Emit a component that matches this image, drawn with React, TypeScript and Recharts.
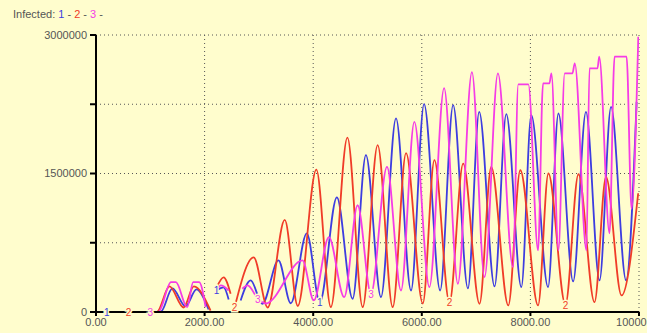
import React from 'react';
import { LineChart, Line, XAxis, YAxis, CartesianGrid } from 'recharts';

const xTicks = [0, 2000, 4000, 6000, 8000, 10000];
const yTicks = [0, 750000, 1500000, 2250000, 3000000];
const yLabelled = [0, 1500000, 3000000];

const s1Name = '1';
const s1T = [0, 200, 1190, 1408, 1648, 1851, 2073, 2150, 2221, 2350, 2443, 2550, 2664, 2848, 3064, 3360, 3587, 3882, 4122, 4436, 4726, 4971, 5248, 5525, 5802, 6042, 6338, 6577, 6849, 7057, 7340, 7556, 7833, 8017, 8325, 8516, 8787, 9023, 9273, 9485, 9762, 9956];
const s1V = [0, 0, 0, 255000, 60000, 244000, 27000, null, 233000, 266000, 136000, null, 125000, 342000, 89000, 559000, 95000, 852000, 106000, 1242000, 143000, 1698000, 161000, 2096000, 233000, 2251000, 233000, 2241000, 255000, 2168000, 277000, 2143000, 269000, 2132000, 269000, 2150000, 331000, 2168000, 342000, 2222000, 342000, 2276000];
const s1Labels = [200, 2221, 4122];

const s2Name = '2';
const s2T = [0, 600, 1120, 1353, 1612, 1802, 2110, 2160, 2221, 2350, 2479, 2520, 2553, 2904, 3162, 3476, 3716, 4058, 4325, 4630, 4911, 5187, 5464, 5710, 6018, 6232, 6509, 6762, 7063, 7279, 7593, 7814, 8141, 8331, 8645, 8885, 9180, 9392, 9678, 9985];
const s2V = [0, 0, 0, 277000, 49000, 277000, 16000, null, 263000, 374000, 197000, null, 49000, 591000, 49000, 998000, 65000, 1541000, 52000, 1888000, 52000, 1807000, 52000, 1720000, 92000, 1644000, 103000, 1606000, 89000, 1571000, 71000, 1535000, 71000, 1500000, 81000, 1492000, 106000, 1463000, 179000, 1286000];
const s2Labels = [600, 2553, 6509, 8645];

const s3Name = '3';
const s3T = [0, 1000, 1150, 1380, 1470, 1680, 1790, 1900, 2018, 2120, 2221, 2300, 2443, 2560, 2695, 2793, 2978, 3125, 3803, 4011, 4288, 4571, 4818, 5064, 5359, 5617, 5863, 6140, 6411, 6664, 6923, 7155, 7402, 7679, 7777, 7962, 8141, 8233, 8350, 8387, 8516, 8632, 8774, 8817, 9032, 9088, 9236, 9267, 9457, 9550, 9771, 9863, 9987];
const s3V = [0, 0, 0, 323000, 323000, 52000, 323000, 323000, 52000, null, 233000, 288000, 233000, null, 252000, 288000, 146000, 92000, 559000, 125000, 812000, 161000, 1156000, 197000, 1571000, 233000, 2059000, 269000, 2425000, 306000, 2599000, 378000, 2584000, 486000, 2465000, 2465000, 667000, 2476000, 2476000, 2584000, 667000, 2584000, 2584000, 2693000, 667000, 2639000, 2639000, 2765000, 852000, 2765000, 2765000, 1118000, 2982000];
const s3Labels = [1000, 2978, 5064];

const BG = '#fffdcd';
const C1 = '#3d3de0';
const C2 = '#f03c28';
const C3 = '#f53ce6';

type Pt = { t: number; v: number | null; lab: boolean };
const build = (ts: number[], vs: (number | null)[], labs: number[]): Pt[] =>
  ts.map((t, i) => ({ t, v: vs[i], lab: labs.includes(t) }));

const d1 = build(s1T, s1V, s1Labels);
const d2 = build(s2T, s2V, s2Labels);
const d3 = build(s3T, s3V, s3Labels);

const mkLabel = (data: Pt[], color: string, text: string) => (props: any) => {
  const { x, y, index } = props;
  if (!data[index] || !data[index].lab || x == null || y == null) return <g key={`l${index}`} />;
  return (
    <text
      key={`l${index}`}
      x={x}
      y={y}
      dy={4}
      textAnchor="middle"
      fontSize={10}
      fontFamily="Liberation Sans, Arial, sans-serif"
      fill={color}
      stroke={BG}
      strokeWidth={3}
      paintOrder="stroke"
    >
      {text}
    </text>
  );
};

const tickStyle = { fill: '#555', fontSize: 11, fontFamily: 'Liberation Sans, Arial, sans-serif' };

export default function App() {
  return (
    <div style={{ position: 'absolute', left: 0, top: 0, width: 647, height: 333, background: BG, overflow: 'hidden' }}>
      <div
        style={{
          position: 'absolute',
          left: 13,
          top: 8,
          fontSize: 11,
          fontFamily: 'Liberation Sans, Arial, sans-serif',
          color: '#555',
          whiteSpace: 'pre',
        }}
      >
        Infected: <span style={{ color: C1 }}>1</span> - <span style={{ color: C2 }}>2</span> - <span style={{ color: C3 }}>3</span> -
      </div>
      <LineChart width={647} height={333} margin={{ top: 35, right: 8, bottom: 0, left: 0 }}>
        <CartesianGrid stroke="#555" strokeDasharray="1 3" />
        <XAxis
          type="number"
          dataKey="t"
          domain={[0, 10000]}
          ticks={xTicks}
          tickFormatter={(v: number) => v.toFixed(2)}
          axisLine={{ stroke: '#000', strokeWidth: 2 }}
          tickLine={{ stroke: '#000', strokeWidth: 2 }}
          tickSize={4}
          tickMargin={2}
          height={21}
          tick={tickStyle}
          interval={0}
          allowDataOverflow
        />
        <YAxis
          type="number"
          domain={[0, 3000000]}
          ticks={yTicks}
          tickFormatter={(v: number) => (yLabelled.includes(v) ? String(v) : '')}
          axisLine={{ stroke: '#000', strokeWidth: 2 }}
          tickLine={{ stroke: '#000', strokeWidth: 2 }}
          tickSize={6}
          tickMargin={3}
          width={96}
          tick={tickStyle}
          interval={0}
          allowDataOverflow
        />
        <Line data={d1} dataKey="v" name={s1Name} type="monotone" stroke={C1} strokeWidth={1.8} dot={false} isAnimationActive={false} label={mkLabel(d1, C1, s1Name)} />
        <Line data={d2} dataKey="v" name={s2Name} type="monotone" stroke={C2} strokeWidth={1.8} dot={false} isAnimationActive={false} label={mkLabel(d2, C2, s2Name)} />
        <Line data={d3} dataKey="v" name={s3Name} type="monotone" stroke={C3} strokeWidth={1.8} dot={false} isAnimationActive={false} label={mkLabel(d3, C3, s3Name)} />
      </LineChart>
    </div>
  );
}
